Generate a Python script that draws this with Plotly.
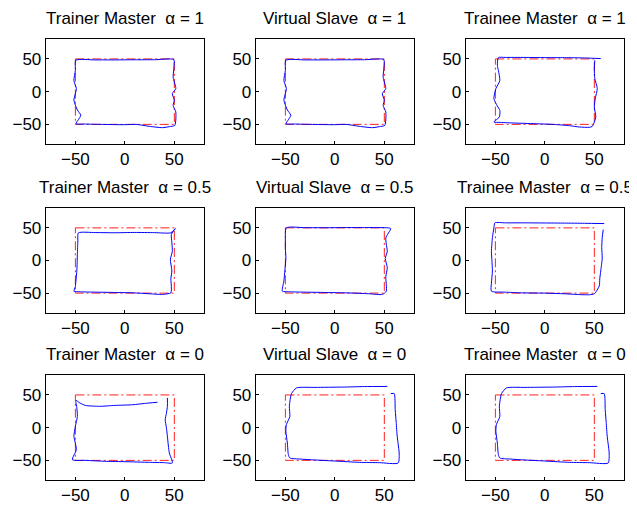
import plotly.graph_objects as go

# Reference square (desired trajectory)
ref_x = [-50, 50, 50, -50, -50]
ref_y = [50, 50, -50, -50, 50]

titles = [
    "Trainer Master\u00a0\u00a0α = 1", "Virtual Slave\u00a0\u00a0α = 1", "Trainee Master\u00a0\u00a0α = 1",
    "Trainer Master\u00a0\u00a0α = 0.5", "Virtual Slave\u00a0\u00a0α = 0.5", "Trainee Master\u00a0\u00a0α = 0.5",
    "Trainer Master\u00a0\u00a0α = 0", "Virtual Slave\u00a0\u00a0α = 0", "Trainee Master\u00a0\u00a0α = 0",
]

tick_vals = [-50, 0, 50]
tick_text = ["\u221250", "0", "50"]

# Trajectories
a1_x = [-49.5, -30, -10, 10, 30, 49.5, 49.5, 48.8, 51.5, 48, 50, 48.8, 51.5, 50.5, 45, 38, 24.7, 11.4, 0, -25, -40, -49.5,
        -47, -44.5, -48, -51.5, -50, -49, -51.5, -50, -49.5]
a1_y = [48, 48.5, 48.5, 48.7, 48.8, 49, 35, 22, 4.6, -3, -13, -21, -31, -51.5, -53.5, -55, -53, -50, -50.5, -50, -49.5, -49,
        -43, -36, -28, -13, -3, 4.6, 17, 32.6, 48]

tr1_x = [56.5, 40, 20, 0, -20, -40, -47, -48, -47, -45.5, -49.5, -51.5, -48, -45.5, -46, -51.5, -45, -30, -10, 8, 25,
         34.8, 45, 48, 51.5, 50, 51, 53, 50.5, 50, 50.5]
tr1_y = [50.5, 51.5, 52, 52, 52.3, 52.3, 52, 40, 32.6, 17, 4.6, -10.7, -22, -28.6, -38.8, -46.4, -47, -48, -49, -50, -52,
         -54, -54.5, -53, -38.8, -23.5, -10, 4.6, 20, 35, 48]

tm05_x = [-47, -30, -10, 10, 30, 46.5, 51, 47, 47.5, 48, 46, 47.5, 46.5, 47, 46.5, 38, 25, 8, -10, -30, -45, -51.5,
          -50, -49.5, -48.5, -48, -47.5, -47]
tm05_y = [42.3, 42.8, 42.5, 43, 42.7, 42.5, 49, 40, 28, 14, 2, -16, -28, -40, -49.5, -52, -51, -49.5, -49, -48.5, -48,
          -47, -40, -31.6, -15, 9, 30, 42.3]

vs05_x = [-49, -30, -10, 10, 30, 54, 56.5, 51.5, 52, 53, 51, 53, 51.5, 52, 48, 35, 20, 8, -10, -30, -45, -53, -51.5,
          -50.5, -49.5, -50, -50, -49]
vs05_y = [50, 50.3, 50.2, 50.5, 50.5, 50, 49, 34.7, 25, 14, 3, -11, -25, -47, -52, -51, -50, -49.5, -49, -48.5, -48,
          -47, -31.6, -15, 4, 18, 29.6, 50]

tr05_x = [60, 40, 20, 0, -20, -40, -50.5, -51.5, -53, -54, -53.5, -53, -54, -54, -40, -25, 0, 20, 31.4, 45, 50, 55,
          55.5, 56.5, 58, 57.5, 58, 59]
tr05_y = [56.6, 57, 57.3, 57.5, 57.7, 57.7, 57.7, 50, 35, 14, 0, -16, -35, -47, -48.5, -49.5, -50, -51, -52, -52.5,
          -51, -39, -28, -16, 4, 20, 35, 47.4]

tm0_x = [33, 20, 8, -10, -25.4, -40, -45.5, -49.5, -48.5, -48, -50, -51.5, -50, -49, -53, -40, -18.7, 0, 24.7, 40, 48,
         45, 44, 43, 42, 40.8, 42, 43, 43]
tm0_y = [38.8, 37, 35, 34, 32.6, 34, 37.8, 41.8, 30, 17, 2, -13, -24, -33.7, -49, -50, -51.5, -52, -53, -53.5, -54,
         -38.8, -28, -13, 0, 12, 22, 32.6, 45.4]

a0_x = [53, 30, 8, -20, -38.8, -43.8, -46, -45.5, -49, -49.5, -48, -47, -45.5, -35, -25, 0, 24.7, 45, 64, 65, 64, 63,
        62, 61, 60, 56.5]
a0_y = [63, 62.8, 62, 61.5, 60.7, 52, 32.6, 17, 4.6, -5.6, -23.5, -41, -46.4, -48, -49, -51, -53, -53.5, -54, -38.8,
        -25, -13, 8, 27.5, 52, 52]

paths = [
    (a1_x, a1_y), (a1_x, a1_y), (tr1_x, tr1_y),
    (tm05_x, tm05_y), (vs05_x, vs05_y), (tr05_x, tr05_y),
    (tm0_x, tm0_y), (a0_x, a0_y), (a0_x, a0_y),
]

# page has an 8px body margin: the figure is drawn 8px smaller and shifted
OFF = 8
W, H = 637 - OFF, 506 - OFF
col_px = [(45.7, 204.0), (255.7, 414.0), (465.7, 624.0)]
row_px = [(39.3, 144.0), (208.3, 312.7), (375.3, 480.0)]

fig = go.Figure()
font_family = "Liberation Sans, Arial, Helvetica, sans-serif"
annotations = []
for i in range(9):
    r, c = divmod(i, 3)
    n = "" if i == 0 else str(i + 1)
    xa, ya = "x" + n, "y" + n
    fig.add_trace(go.Scatter(x=ref_x, y=ref_y, mode="lines", xaxis=xa, yaxis=ya,
                             line=dict(color="#ff2020", width=1, dash="9px,3px,2px,3px"),
                             showlegend=False, hoverinfo="skip"))
    px, py = paths[i]
    fig.add_trace(go.Scatter(x=px, y=py, mode="lines", xaxis=xa, yaxis=ya,
                             line=dict(color="#0000ff", width=1, shape="spline", smoothing=0.6),
                             showlegend=False))
    xd = [(col_px[c][0] - OFF) / W, (col_px[c][1] - OFF) / W]
    yd = [1 - (row_px[r][1] - OFF) / H, 1 - (row_px[r][0] - OFF) / H]
    axis_common = dict(range=[-80, 80], tickvals=tick_vals, ticktext=tick_text, ticks="inside", ticklen=3,
                       tickcolor="black", showline=True, mirror=True, linecolor="black", linewidth=1,
                       showgrid=False, zeroline=False, tickfont=dict(size=17, color="black", family=font_family))
    fig.update_layout(**{
        "xaxis" + n: dict(domain=xd, anchor=ya, **axis_common),
        "yaxis" + n: dict(domain=yd, anchor=xa, **axis_common),
    })
    annotations.append(dict(text=titles[i], xref="paper", yref="paper", x=(xd[0] + xd[1]) / 2, y=yd[1],
                            xanchor="center", yanchor="middle", yshift=21, showarrow=False,
                            font=dict(size=17, color="black", family=font_family)))

fig.update_layout(width=W, height=H, margin=dict(l=0, r=0, t=0, b=0), plot_bgcolor="white",
                  paper_bgcolor="white", annotations=annotations, font=dict(family=font_family))

fig.write_html("out.html")
